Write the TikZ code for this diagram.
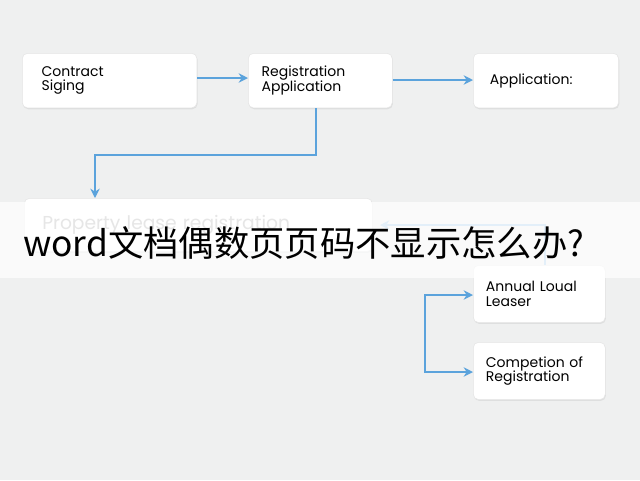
\documentclass[tikz,border=0pt]{standalone}
\usepackage{fontspec}
\setmainfont{Poppins}
\newfontfamily\cjk{Noto Sans CJK SC}
\usetikzlibrary{arrows.meta,shadows}
\definecolor{bg}{HTML}{EFF0F0}
\definecolor{arr}{HTML}{5BA3DC}
\begin{document}
\begin{tikzpicture}[x=0.75pt,y=-0.75pt,
  box/.style={draw=black!10,fill=white,rounded corners=4pt,drop shadow={opacity=0.15,shadow xshift=0.5pt,shadow yshift=-1pt},font=\fontsize{10.5}{11}\selectfont,align=left,inner sep=0pt,anchor=north west},
  ar/.style={draw=arr,line width=2pt,-{Stealth[length=7pt,width=7pt]}}]
\fill[bg] (0,0) rectangle (640,480);
\useasboundingbox (0,0) rectangle (640,480);
\node[box,minimum width=131pt,minimum height=41pt,text width=110pt] (a) at (22,53) {\hspace*{4pt}Contract\\\hspace*{4pt}Siging\\[-4pt]};
\node[box,minimum width=108pt,minimum height=41pt,text width=96pt] (b) at (248,53) {\hspace*{4pt}Registration\\\hspace*{4pt}Application\\[-4pt]};
\node[box,minimum width=109pt,minimum height=41pt,text width=100pt] (c) at (473,53) {\hspace*{8pt}Application:\\[10pt]};
\node[box,minimum width=261pt,minimum height=40pt,text width=250pt,text=black!35,font=\fontsize{14}{15}\selectfont] (d) at (24,198) {\hspace*{8pt}Property lease registration};
\node[box,minimum width=99pt,minimum height=43pt,text width=92pt] (e) at (473,265) {\hspace*{6pt}Annual Loual\\\hspace*{6pt}Leaser};
\node[box,minimum width=99pt,minimum height=43pt,text width=92pt] (f) at (473,342) {\hspace*{6pt}Competion of\\\hspace*{6pt}Registration};
\draw[ar] (a.east|-0,78) -- (b.west|-0,78);
\draw[ar] (b.east|-0,80) -- (c.west|-0,80);
\draw[ar] (316,108) -- (316,155) -- (95,155) -- (d.north-|95,0);
\draw[ar,draw=arr!60] (e.north-|545,0) -- (545,225) -- (380,225);
\coordinate (br) at (425,334);
\draw[ar] (br) |- (e.west|-0,295);
\draw[ar] (br) |- (f.west|-0,372);
\fill[white,opacity=0.72] (0,202) rectangle (640,278);
\node[font=\cjk\fontsize{26.5}{28}\selectfont,anchor=west,inner sep=0pt] (t) at (23,243) {word文档偶数页页码不显示怎么办?};
\end{tikzpicture}
\end{document}
